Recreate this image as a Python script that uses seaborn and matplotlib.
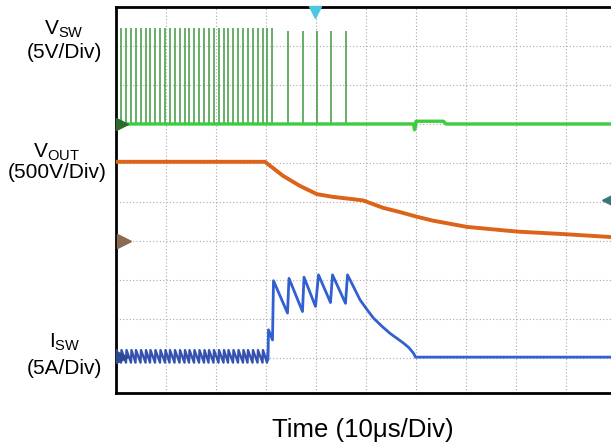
import numpy as np
import pandas as pd
import matplotlib
matplotlib.use("Agg")
import matplotlib.pyplot as plt
import seaborn as sns

# Scope trace in divisions (x: 0..10, y: 0..10)
# Switching instants of V_SW (spikes)
spike_t = [0.10, 0.20, 0.30, 0.39, 0.49, 0.59, 0.68, 0.78, 0.88, 0.98,
           1.07, 1.17, 1.27, 1.37, 1.46, 1.56, 1.66, 1.76, 1.85, 1.95,
           2.05, 2.15, 2.24, 2.34, 2.44, 2.54, 2.63, 2.73, 2.83, 2.93,
           3.02, 3.12, 3.43, 3.73, 4.01, 4.30, 4.60]
spike_top = [9.47] * 32 + [9.38] * 5

# V_SW baseline (green)
vsw_x = [0.0, 5.95, 5.97, 5.99, 6.00, 6.55, 6.60, 9.9]
vsw_y = [7.0, 7.0, 6.85, 6.92, 7.07, 7.07, 7.0, 7.0]

# V_OUT (orange)
vout_x = [0.0, 2.98, 3.34, 3.68, 4.02, 4.34, 4.68, 4.94, 5.34, 5.68,
          6.02, 6.34, 6.68, 7.02, 8.02, 9.02, 9.9]
vout_y = [6.03, 6.03, 5.67, 5.41, 5.20, 5.13, 5.08, 5.04, 4.85, 4.74,
          4.62, 4.52, 4.44, 4.36, 4.24, 4.17, 4.10]

# I_SW ripple before fault (blue), ramp levels per switching cycle
isw_hi = 1.20
isw_lo = 0.88
# I_SW after fault
isw_x = [3.04, 3.05, 3.13, 3.15, 3.43, 3.46, 3.73, 3.76, 3.99, 4.05,
         4.29, 4.33, 4.59, 4.63, 4.76, 4.88, 5.02, 5.15, 5.32, 5.48,
         5.62, 5.75, 5.86, 5.95, 5.99, 9.9]
isw_y = [0.95, 1.72, 1.46, 2.98, 2.15, 3.04, 2.19, 3.07, 2.32, 3.13,
         2.42, 3.13, 2.40, 3.13, 2.80, 2.49, 2.24, 2.02, 1.81, 1.63,
         1.50, 1.38, 1.26, 1.12, 1.02, 1.02]

W, H = 611, 447
sns.set_style("white")
plt.rcParams['font.family'] = ['Liberation Sans', 'DejaVu Sans']
plt.rcParams['mathtext.default'] = 'regular'
plt.rcParams['text.color'] = 'black'

fig = plt.figure(figsize=(W / 100, H / 100), dpi=100)
ax = fig.add_axes([116 / W, (H - 393) / H, 495 / W, 386 / H])
ax.set_xlim(0, 9.9)
ax.set_ylim(0.1, 10)

# graticule
ax.set_xticks(range(1, 10))
ax.set_yticks(range(1, 10))
ax.tick_params(length=0, labelbottom=False, labelleft=False)
ax.grid(True, linestyle=(0, (1, 2)), color="#a8a8a8", linewidth=0.8)
for s in ["left", "top", "bottom"]:
    ax.spines[s].set_color("black")
    ax.spines[s].set_linewidth(2)
ax.spines["right"].set_visible(False)

# V_SW
ax.vlines(spike_t, 7.0, spike_top, color="#3a963a", linewidth=1.2, alpha=0.9, zorder=3)
sns.lineplot(x=vsw_x, y=vsw_y, sort=False, color="#3ccc3c", linewidth=2.4, ax=ax, zorder=4)

# V_OUT
sns.lineplot(x=vout_x, y=vout_y, sort=False, color="#dc6318", linewidth=2.8, ax=ax, zorder=4)

# I_SW: ripple teeth built from the switching instants, then the fault part
ripple_t = [0.0] + [t for t in spike_t if t < 3.04]
tx, ty = [], []
for a, b in zip(ripple_t[:-1], ripple_t[1:]):
    tx += [a, a + 0.01, b]
    ty += [isw_lo, isw_hi, isw_lo]
tx += [3.04]
ty += [isw_hi]
ripple = pd.DataFrame({"t": tx, "i": ty})
sns.lineplot(data=ripple, x="t", y="i", sort=False, color="#3552b0", linewidth=1.7, ax=ax, zorder=4)
sns.lineplot(x=isw_x, y=isw_y, sort=False, color="#3160d0", linewidth=2.0, ax=ax, zorder=4)
ax.set_xlabel("")
ax.set_ylabel("")

# channel / trigger markers
ax.plot([0.12], [7.0], marker=">", markersize=9, color="#2d6a2d", clip_on=False, zorder=5)
ax.plot([0.15], [4.0], marker=">", markersize=10, color="#8a6a50", clip_on=False, zorder=5)
ax.plot([0.12], [1.03], marker=">", markersize=9, color="#2c4a90", clip_on=False, zorder=5)
ax.plot([9.83], [5.05], marker="<", markersize=9, color="#3a7878", clip_on=False, zorder=5)
ax.plot([3.98], [9.88], marker="v", markersize=8, color="#4cc8e0", clip_on=False, zorder=5)

# labels
def ftext(px, py, s, size, ha="center"):
    fig.text(px / W, 1 - py / H, s, fontsize=size, ha=ha, va="baseline", color="black")

ftext(64, 35, "V$_{SW}$", 15)
ftext(64, 58, "(5V/Div)", 15)
ftext(56, 158, "V$_{OUT}$", 15)
ftext(57, 178, "(500V/Div)", 15)
ftext(65, 348, "I$_{SW}$", 15)
ftext(64, 374, "(5A/Div)", 15)
ftext(363, 437, "Time (10\u03bcs/Div)", 18.5)

fig.savefig("out.png", dpi=100)
